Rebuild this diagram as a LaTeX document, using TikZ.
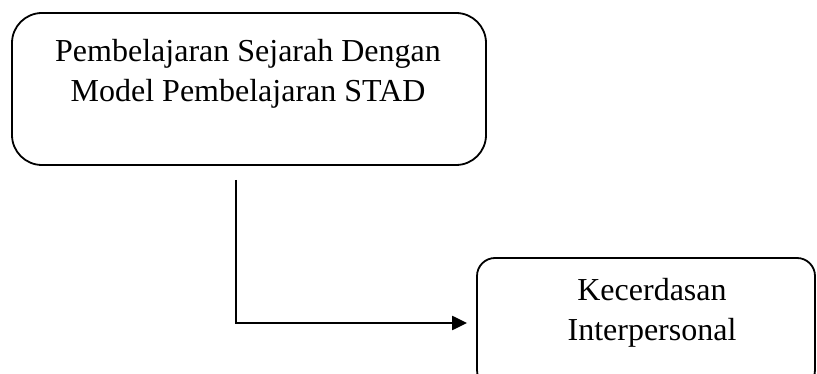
\documentclass[tikz,border=0pt]{standalone}
\usepackage{fontspec}
\setmainfont{Liberation Serif}
\usetikzlibrary{arrows.meta}
\begin{document}
\begin{tikzpicture}[x=1pt,y=-1pt,
  boxa/.style={draw, line width=1.8pt, rounded corners=30pt, inner sep=0pt},
  boxb/.style={draw, line width=1.8pt, rounded corners=18pt, inner sep=0pt},
  lbl/.style={align=center, font=\fontsize{32}{40}\selectfont, inner sep=0pt},
  conn/.style={line width=2.2pt, -{Triangle[length=15pt,width=14pt]}, shorten >=9pt}]
\useasboundingbox (0,0) rectangle (817,374);
\node[boxa, minimum width=474pt, minimum height=152pt] (b1) at (249,89) {};
\node[lbl] (t1) at (248,74) {Pembelajaran Sejarah Dengan\\Model Pembelajaran STAD};
\node[boxb, minimum width=338pt, minimum height=130pt] (b2) at (646,323) {};
\node[lbl] (t2) at (652,313) {Kecerdasan\\Interpersonal};
\coordinate (s) at (236,180);
\draw[conn] (s) |- (b2.west);
\end{tikzpicture}
\end{document}
